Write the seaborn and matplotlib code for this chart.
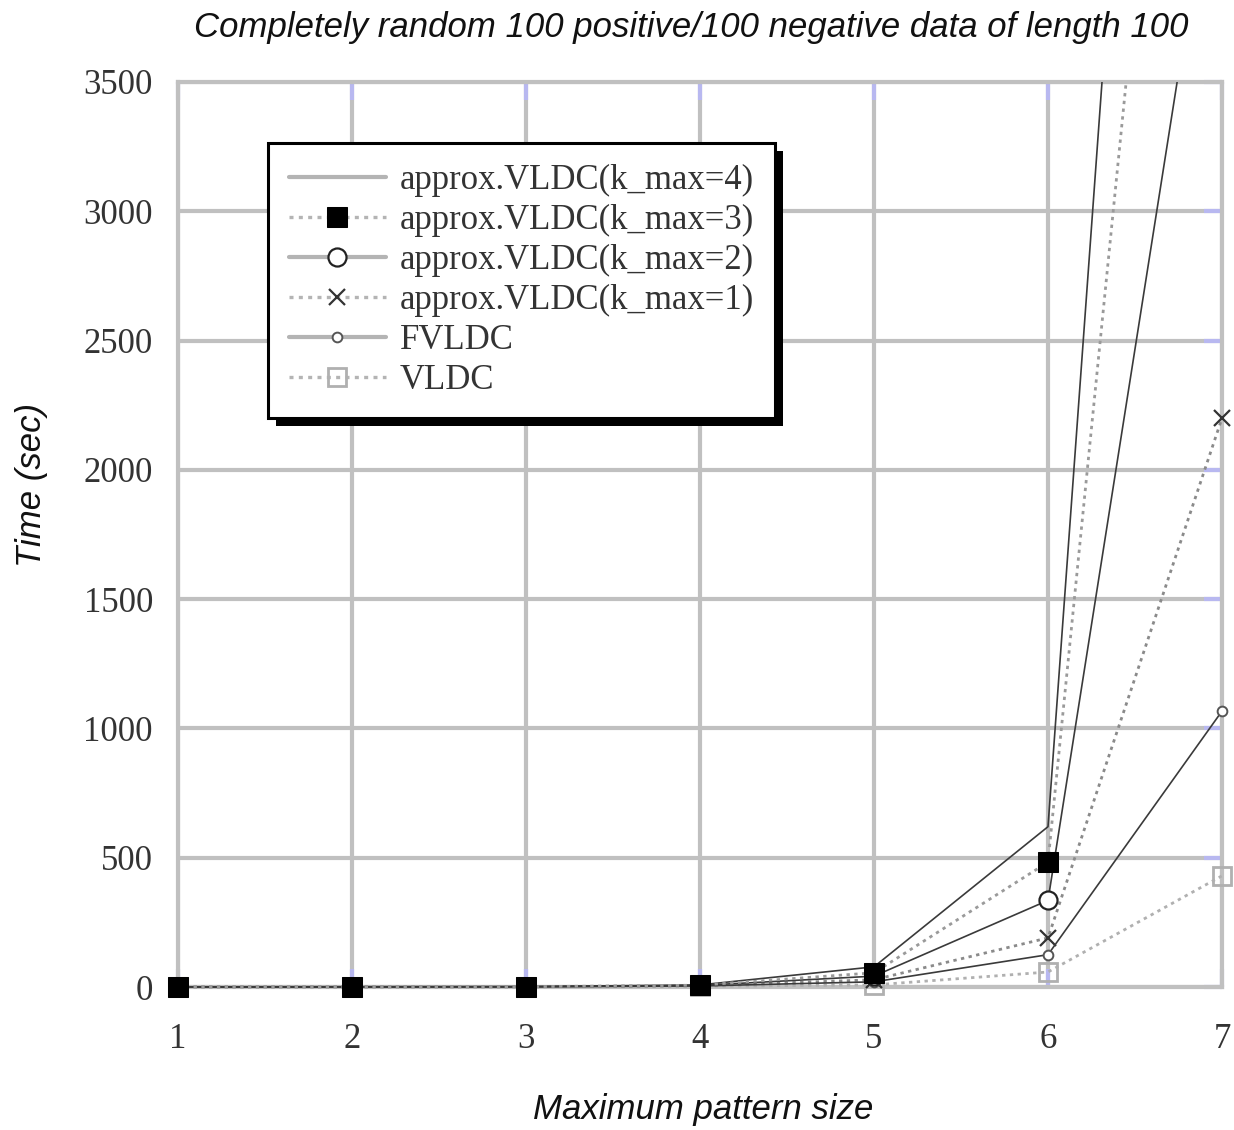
import matplotlib
matplotlib.use("Agg")
import matplotlib.pyplot as plt
from matplotlib.patches import Rectangle
from matplotlib.transforms import IdentityTransform
import seaborn as sns

# values (seconds)
pattern_size = [1, 2, 3, 4, 5, 6, 7]
kmax4 = [0.5, 1, 1.5, 8, 78, 620, 9900]
kmax3 = [0.4, 0.8, 1.2, 7, 55, 483, 7200]
kmax2 = [0.3, 0.6, 1.0, 6, 42, 335, 4600]
kmax1 = [0.2, 0.5, 0.8, 5, 28, 190, 2200]
fvldc = [0.2, 0.4, 0.7, 4, 20, 125, 1067]
vldc = [0.1, 0.3, 0.5, 3, 8, 58, 430]

labels = ["approx.VLDC(k_max=4)", "approx.VLDC(k_max=3)", "approx.VLDC(k_max=2)",
          "approx.VLDC(k_max=1)", "FVLDC", "VLDC"]
yticks = [0, 500, 1000, 1500, 2000, 2500, 3000, 3500]

sns.set_style("white")
serif = "Liberation Serif"
sans = "Liberation Sans"

fig = plt.figure(figsize=(12.34, 11.30), dpi=100)
ax = fig.add_axes([178 / 1234, 1 - 987 / 1130, (1222 - 178) / 1234, (987 - 82) / 1130])

dark = "#3a3a3a"
dotc = "#9a9a9a"
dots = (0, (1.2, 1.6))

styles = [
    dict(color=dark, linestyle="-", linewidth=1.2, marker=None, zorder=3),
    dict(color=dotc, linestyle=dots, linewidth=2.0, marker="s", markersize=14,
         markerfacecolor="black", markeredgecolor="black", zorder=6),
    dict(color=dark, linestyle="-", linewidth=1.2, marker="o", markersize=13,
         markerfacecolor="white", markeredgecolor="#222222", markeredgewidth=1.6, zorder=5),
    dict(color="#8a8a8a", linestyle=dots, linewidth=2.0, marker="x", markersize=11,
         markeredgecolor="#333333", markeredgewidth=1.6, zorder=4),
    dict(color=dark, linestyle="-", linewidth=1.2, marker="o", markersize=7,
         markerfacecolor="white", markeredgecolor="#555555", markeredgewidth=1.4, zorder=4),
    dict(color="#b0b0b0", linestyle=dots, linewidth=2.0, marker="s", markersize=13,
         markerfacecolor="none", markeredgecolor="#b0b0b0", markeredgewidth=2.0, zorder=3),
]

series = [kmax4, kmax3, kmax2, kmax1, fvldc, vldc]
clip = Rectangle((-0.05, -0.05), 1.1, 1.05, transform=ax.transAxes)
for vals, lab, st in zip(series, labels, styles):
    sns.lineplot(x=pattern_size, y=vals, ax=ax, label=lab, **st)
for ln in ax.get_lines():
    ln.set_clip_path(clip)

ax.set_xlim(1, 7)
ax.set_ylim(0, 3500)
ax.set_xticks(pattern_size)
ax.set_yticks(yticks)
ax.grid(True, color="#c0c0c0", linewidth=3.0)
ax.set_axisbelow(True)
for sp in ax.spines.values():
    sp.set_color("#c0c0c0")
    sp.set_linewidth(3.0)
    sp.set_zorder(1)

ax.tick_params(axis="x", direction="in", length=13, width=3, color="#b8b8f0",
               top=True, bottom=True, pad=26)
ax.tick_params(axis="y", direction="in", length=13, width=3, color="#b8b8f0",
               right=True, left=False, pad=18)
for t in ax.get_xticklabels() + ax.get_yticklabels():
    t.set_fontfamily(serif)
    t.set_fontsize(25)
    t.set_color("#333333")

fig.text(691 / 1234, 1 - 27 / 1130, "Completely random 100 positive/100 negative data of length 100",
         ha="center", va="center", fontsize=25, style="italic", family=sans, color="#111111")
fig.text(703 / 1234, 1 - 1110 / 1130, "Maximum pattern size", ha="center", va="center",
         fontsize=25, style="italic", family=sans, color="#111111")
fig.text(32 / 1234, 1 - 485 / 1130, "Time (sec)", ha="center", va="center", rotation=90,
         fontsize=25, style="italic", family=sans, color="#111111")

leg = ax.legend(loc="upper left", bbox_to_anchor=(268 / 1234, 1 - 143 / 1130),
                bbox_transform=fig.transFigure, borderaxespad=0, fancybox=False,
                prop={"family": serif, "size": 25}, handlelength=2.8, handletextpad=0.4,
                labelspacing=0.2, borderpad=0.6, numpoints=1, framealpha=1)
leg.get_frame().set_edgecolor("black")
leg.get_frame().set_linewidth(2.2)
for t in leg.get_texts():
    t.set_color("#333333")
# legend swatches look lighter and thicker than the plotted lines
for h in leg.get_lines():
    h.set_color("#b4b4b4")
    h.set_linewidth(3.0 if h.get_linestyle() == "-" else 2.4)

fig.canvas.draw()
bb = leg.get_window_extent()
ax.add_patch(Rectangle((bb.x0 + 8, bb.y0 - 8), bb.width, bb.height, transform=IdentityTransform(),
                       facecolor="black", edgecolor="none", zorder=leg.get_zorder() - 0.1,
                       clip_on=False))

fig.savefig("out.png", dpi=100)
